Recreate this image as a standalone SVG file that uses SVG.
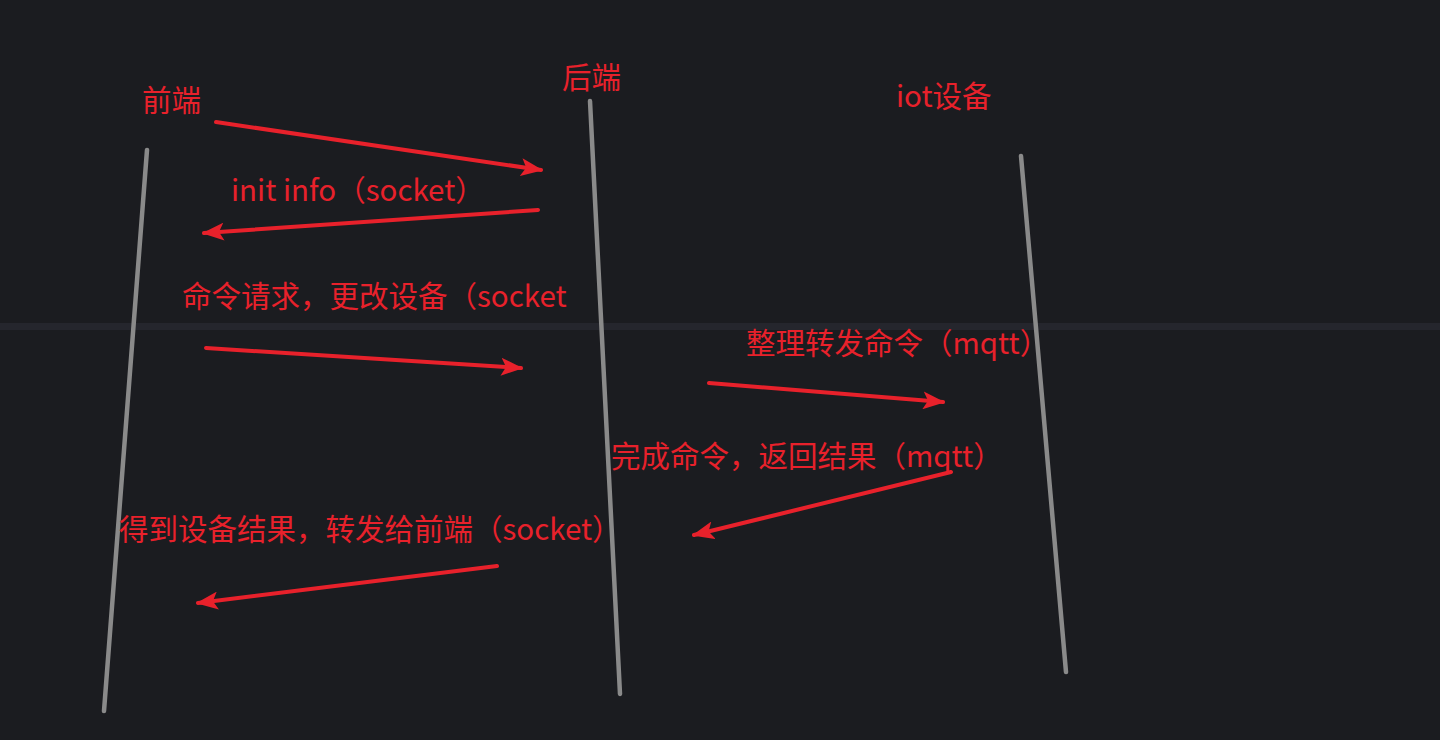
<svg xmlns="http://www.w3.org/2000/svg" width="1440" height="740" viewBox="0 0 1440 740">
<defs>
<style>
.lane{stroke:#8a8a8a;stroke-width:4.5;stroke-linecap:round;fill:none}
.msg{stroke:#e8212b;stroke-width:4;stroke-linecap:round;fill:none}
.t{fill:#e8212b;font-family:"Noto Sans CJK SC","Noto Sans",sans-serif;font-size:29.5px}
</style>
<marker id="ah" viewBox="0 0 22 18" refX="20" refY="9" markerWidth="22" markerHeight="18" markerUnits="userSpaceOnUse" orient="auto">
<path d="M0,0 L22,9 L0,18 L5,9 Z" fill="#e8212b"/>
</marker>
</defs>
<rect width="1440" height="740" fill="#1b1c20"/>
<rect x="0" y="323" width="1440" height="7" fill="#25262d"/>
<g id="frontend">
<line class="lane" x1="147" y1="150" x2="104" y2="711"/>
<text class="t" x="142" y="111">前端</text>
</g>
<g id="backend">
<line class="lane" x1="590" y1="101" x2="620" y2="694"/>
<text class="t" x="562" y="88">后端</text>
</g>
<g id="iot">
<line class="lane" x1="1021" y1="156" x2="1066" y2="672"/>
<text class="t" x="896" y="107">iot设备</text>
</g>
<g id="connectors">
<line class="msg" x1="216" y1="122" x2="541" y2="170" marker-end="url(#ah)"/>
<line class="msg" x1="538" y1="210" x2="204" y2="233" marker-end="url(#ah)"/>
<line class="msg" x1="206" y1="348" x2="521" y2="368" marker-end="url(#ah)"/>
<line class="msg" x1="709" y1="383" x2="943" y2="402" marker-end="url(#ah)"/>
<line class="msg" x1="951" y1="472" x2="694" y2="535" marker-end="url(#ah)"/>
<line class="msg" x1="497" y1="566" x2="198" y2="603" marker-end="url(#ah)"/>
</g>
<g id="labels">
<text class="t" x="231" y="201">init info（socket）</text>
<text class="t" x="182" y="307">命令请求，更改设备（socket</text>
<text class="t" x="746" y="354">整理转发命令（mqtt）</text>
<text class="t" x="611" y="467">完成命令，返回结果（mqtt）</text>
<text class="t" x="119" y="540">得到设备结果，转发给前端（socket）</text>
</g>
</svg>
